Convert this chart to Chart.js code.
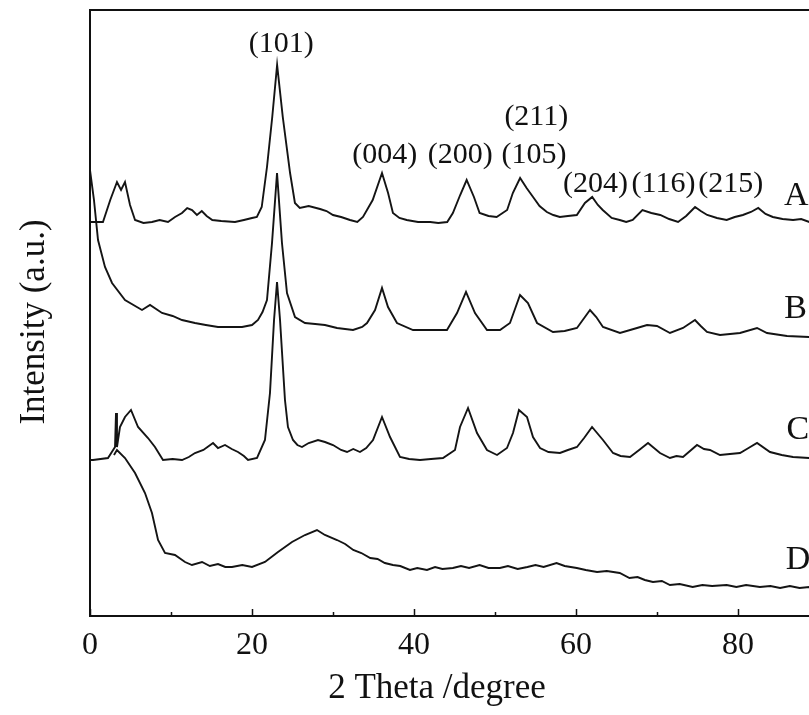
<!DOCTYPE html>
<html>
<head>
<meta charset="utf-8">
<script src="https://cdn.jsdelivr.net/npm/chart.js@4/dist/chart.umd.min.js"></script>
<style>
    html, body { margin: 0; padding: 0; background: #fff; overflow: hidden; }
    #canvas_xrd { display: block; }
</style>
</head>
<body>
<canvas id="canvas_xrd" width="830" height="715"></canvas>
<script>
// 2 theta (degree) / intensity (a.u., curves stacked with offsets)
const theta_a = [0, 1.6, 2.5, 3.33, 3.83, 4.32, 4.94, 5.56, 6.6, 7.65, 8.6, 9.63, 10.5, 11.36, 12.0, 12.6, 13.2, 13.8, 14.4, 15.1,
    16.2, 17.9, 19.0, 20.0, 20.6, 21.2, 21.85, 22.5, 23.1, 23.8, 24.7, 25.3, 25.9, 27.0, 28.4, 29.2, 30.0, 31.0, 32.1, 33.0,
    33.7, 34.9, 36.05, 36.8, 37.4, 38.2, 39.1, 40.5, 42.0, 43.0, 44.1, 44.8, 45.7, 46.5, 47.4, 48.1, 49.2, 50.2, 51.5, 52.2,
    53.1, 53.9, 54.7, 55.5, 56.4, 57.2, 58.0, 59.0, 60.1, 61.1, 62.0, 62.7, 63.3, 64.4, 65.4, 66.2, 67.0, 68.2, 69.3, 70.4,
    71.5, 72.6, 73.6, 74.7, 75.4, 76.2, 77.4, 78.6, 79.6, 80.6, 81.6, 82.5, 83.4, 84.3, 85.5, 86.8, 87.8, 88.8, 90];
const int_a = [394, 394, 416, 434, 426, 434, 411, 396, 393, 394, 396, 394, 399, 403, 408, 406, 401, 405, 400, 396,
    395, 394, 396, 398, 399, 409, 449, 499, 551, 499, 443, 413, 408, 410, 407, 405, 401, 399, 396, 394,
    399, 416, 443, 423, 403, 398, 396, 394, 394, 393, 394, 403, 421, 436, 419, 403, 400, 399, 406, 423,
    438, 428, 419, 410, 404, 401, 399, 400, 401, 413, 419, 411, 406, 398, 396, 394, 396, 406, 403, 401,
    397, 394, 400, 409, 405, 401, 398, 396, 399, 401, 404, 408, 402, 399, 397, 396, 397, 394, 394];

const theta_b = [0, 0.49, 0.99, 1.85, 2.72, 4.32, 6.42, 7.41, 8.89, 10.2, 11.36, 12.96, 14.3, 15.8, 17.2, 18.77, 20.0, 20.74, 21.3, 21.85,
    22.47, 23.09, 23.7, 24.32, 25.31, 26.54, 27.8, 29.0, 30.5, 32.47, 33.6, 34.2, 35.19, 36.05, 36.79, 37.9, 39.88, 42.0, 44.07, 45.31,
    46.42, 47.53, 49.01, 50.62, 51.85, 53.09, 54.07, 55.19, 57.16, 58.6, 60.12, 61.73, 62.5, 63.33, 65.43, 67.53, 68.77, 70.0, 71.6, 73.21,
    74.69, 75.4, 76.17, 77.78, 80.25, 82.35, 83.58, 86.05, 88.77, 90];
const int_b = [446, 416, 376, 349, 333, 316, 306, 311, 303, 300, 296, 293, 291, 289, 289, 289, 291, 296, 304, 316,
    373, 443, 373, 323, 299, 293, 292, 291, 288, 286, 289, 293, 306, 328, 309, 293, 286, 286, 286, 303,
    324, 303, 286, 286, 293, 321, 313, 293, 284, 285, 288, 306, 299, 289, 283, 288, 291, 290, 283, 288,
    296, 290, 284, 281, 283, 288, 283, 280, 279, 278];

const theta_c = [0, 0.37, 2.22, 3.09, 3.21, 3.33, 3.7, 4.32, 5.06, 5.93, 7.16, 8.02, 9.01, 10.2, 11.36, 12.2, 12.96, 14.0, 15.19, 15.8,
    16.67, 17.5, 18.27, 19.0, 19.51, 20.62, 21.6, 22.22, 22.72, 23.09, 23.46, 24.07, 24.44, 25.06, 25.6, 26.17, 27.0, 28.15, 29.01, 30.0,
    31.0, 31.73, 32.5, 33.33, 34.1, 34.94, 36.05, 37.04, 38.27, 39.4, 40.74, 42.1, 43.58, 45.06, 45.68, 46.67, 47.78, 49.01, 50.25, 51.48,
    52.22, 52.96, 53.95, 54.69, 55.56, 56.6, 58.02, 59.0, 60.12, 61.0, 61.98, 63.33, 64.57, 65.5, 66.67, 67.8, 68.89, 70.37, 71.6, 72.4,
    73.21, 74.94, 75.8, 76.54, 77.78, 79.0, 80.25, 81.3, 82.35, 83.95, 85.4, 86.79, 88.77, 90];
const int_c = [156, 156, 158, 169, 203, 169, 189, 199, 206, 189, 178, 169, 156, 157, 156, 159, 163, 166, 173, 168,
    171, 167, 164, 160, 156, 158, 176, 223, 296, 334, 296, 216, 189, 176, 171, 169, 173, 176, 174, 171,
    166, 164, 167, 164, 168, 176, 199, 179, 159, 157, 156, 157, 158, 166, 189, 208, 183, 166, 161, 168,
    183, 206, 199, 179, 168, 164, 163, 166, 169, 178, 189, 176, 163, 160, 159, 166, 173, 163, 158, 160,
    159, 171, 167, 166, 161, 162, 163, 168, 173, 164, 161, 159, 158, 158];

const theta_d = [2.96, 3.33, 4.32, 5.56, 6.79, 7.65, 8.4, 9.26, 10.49, 11.73, 12.59, 13.83, 14.8, 15.8, 16.7, 17.53, 18.8, 20.0, 21.6, 23.21,
    24.94, 26.54, 28.02, 29.0, 30.5, 31.5, 32.5, 33.5, 34.6, 35.5, 36.4, 37.4, 38.3, 39.5, 40.4, 41.6, 42.6, 43.5, 44.8, 45.8,
    46.8, 48.1, 49.2, 50.6, 51.6, 52.8, 54.0, 55.0, 56.0, 57.6, 58.6, 60.1, 61.2, 62.6, 63.8, 65.4, 66.6, 67.6, 68.5, 69.5,
    70.6, 71.6, 72.8, 74.4, 75.6, 76.8, 78.6, 79.8, 81.0, 82.7, 84.0, 85.2, 86.4, 87.6, 88.8, 90];
const int_d = [161, 166, 158, 143, 123, 103, 76, 63, 61, 54, 51, 54, 50, 52, 49, 49, 51, 49, 54, 64,
    74, 81, 86, 81, 76, 72, 66, 63, 58, 57, 53, 51, 50, 46, 48, 46, 49, 47, 48, 50,
    48, 51, 48, 48, 50, 47, 49, 51, 49, 53, 50, 48, 46, 44, 45, 43, 38, 39, 36, 34,
    35, 31, 32, 29, 31, 30, 31, 29, 31, 29, 30, 28, 30, 28, 29, 28];

// tick labels on the 2 theta axis
const x_labels = [0, 20, 40, 60, 80];

// peak indexes [text, 2theta, intensity] and curve names
const peak_labels = [
    ['(101)', 23.6, 572],
    ['(004)', 36.4, 461],
    ['(200)', 45.7, 461],
    ['(105)', 54.8, 461],
    ['(211)', 55.1, 499],
    ['(204)', 62.4, 432],
    ['(116)', 70.8, 432],
    ['(215)', 79.1, 432]
];
const curve_labels = [
    ['A', 87.2, 420],
    ['B', 87.1, 307],
    ['C', 87.4, 186],
    ['D', 87.4, 56]
];

function points(theta, intensity) {
    let pts = [];
    for (let count = 0; count < theta.length; count++) {
        pts.push({x: theta[count], y: intensity[count]});
    }
    return pts;
}

function serie(label, theta, intensity) {
    return {
        label: label,
        data: points(theta, intensity),
        borderColor: '#141414',
        borderWidth: 1.9,
        pointRadius: 0,
        tension: 0,
        fill: false
    };
}

const serif = "'Liberation Serif', 'DejaVu Serif', serif";

const decor_plugin = {
    id: 'decor',
    afterDraw: function (chart) {
        const ctx = chart.ctx;
        const area = chart.chartArea;
        const x = chart.scales.x;
        const y = chart.scales.y;
        ctx.save();
        // frame
        ctx.strokeStyle = '#111';
        ctx.lineWidth = 2;
        ctx.strokeRect(area.left, area.top, area.right - area.left, area.bottom - area.top);
        // inward ticks
        ctx.lineWidth = 1.5;
        for (let v = 0; v <= 90; v += 10) {
            const px = Math.round(x.getPixelForValue(v)) + 0.5;
            const len = (v % 20 === 0) ? 7 : 4;
            ctx.beginPath();
            ctx.moveTo(px, area.bottom);
            ctx.lineTo(px, area.bottom - len);
            ctx.stroke();
        }
        // texts
        ctx.fillStyle = '#111';
        ctx.textAlign = 'center';
        ctx.textBaseline = 'middle';
        ctx.font = '30px ' + serif;
        peak_labels.forEach(function (p) {
            ctx.fillText(p[0], x.getPixelForValue(p[1]), y.getPixelForValue(p[2]));
        });
        ctx.font = '34px ' + serif;
        curve_labels.forEach(function (p) {
            ctx.fillText(p[0], x.getPixelForValue(p[1]), y.getPixelForValue(p[2]));
        });
        // axis titles
        ctx.font = '35px ' + serif;
        ctx.fillText('2 Theta /degree', 437, 689);
        ctx.translate(35, 322);
        ctx.rotate(-Math.PI / 2);
        ctx.fillText('Intensity (a.u.)', 0, 0);
        ctx.restore();
    }
};

const chart_datas = {
    datasets: [
        serie('A', theta_a, int_a),
        serie('B', theta_b, int_b),
        serie('C', theta_c, int_c),
        serie('D', theta_d, int_d)
    ]
};

const options = {
    responsive: false,
    animation: false,
    layout: {
        padding: {top: 10, right: 11, bottom: 0, left: 0}
    },
    plugins: {
        legend: {display: false},
        tooltip: {enabled: false}
    },
    scales: {
        x: {
            type: 'linear',
            min: 0,
            max: 90,
            grid: {display: false, drawTicks: false},
            border: {display: false},
            ticks: {
                stepSize: 10,
                padding: 10,
                color: '#111',
                font: {family: serif, size: 32},
                maxRotation: 0,
                autoSkip: false,
                callback: function (value) {
                    return x_labels.indexOf(value) >= 0 ? String(value) : '';
                }
            },
            afterFit: function (scale) {
                scale.height = 99;
            }
        },
        y: {
            type: 'linear',
            min: 0,
            max: 606,
            grid: {display: false, drawTicks: false},
            border: {display: false},
            ticks: {display: false},
            afterFit: function (scale) {
                scale.width = 90;
            }
        }
    }
};

const group_chart = document.getElementById('canvas_xrd');
const graph = new Chart(group_chart, {
    type: 'line',
    data: chart_datas,
    options: options,
    plugins: [decor_plugin]
});
</script>
</body>
</html>
